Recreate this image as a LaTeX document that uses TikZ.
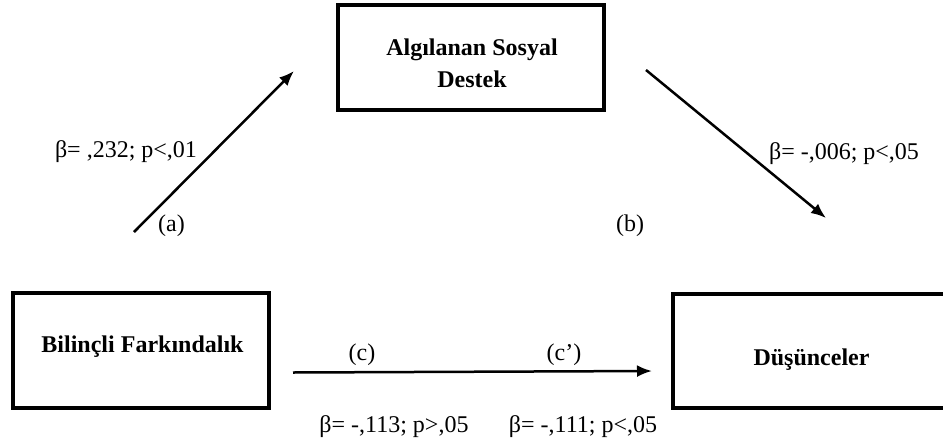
\documentclass[tikz,border=0pt]{standalone}
\usepackage{fontspec}
\setmainfont{Liberation Serif}
\usetikzlibrary{arrows.meta}
\begin{document}
\begin{tikzpicture}[x=1pt,y=-1pt,
  varbox/.style={draw=black, line width=4pt, rectangle, inner sep=0pt},
  vartext/.style={font=\fontsize{24}{32}\selectfont\bfseries, inner sep=0pt, align=center},
  lbl/.style={font=\fontsize{24}{28}\selectfont, inner sep=0pt, anchor=base},
  path/.style={line width=2.5pt, -{Latex[length=15pt,width=12pt]}}]
  \useasboundingbox (0,0) rectangle (943,445);
  \clip (0,0) rectangle (943,445);

  % variable boxes
  \node[varbox, minimum width=266pt, minimum height=105pt] (asd) at (471,57) {};
  \node[varbox, minimum width=256.5pt, minimum height=115pt] (bf) at (140.75,350.5) {};
  \node[varbox, minimum width=278pt, minimum height=114pt] (dus) at (811.5,350.5) {};

  \node[vartext] (asdtext) at (472,62.8) {Algılanan Sosyal\\Destek};
  \node[vartext, anchor=base] (bftext) at (142.5,352) {Bilinçli Farkındalık};
  \node[vartext, anchor=base] (dustext) at (811.5,365) {Düşünceler};

  % arrow end points
  \coordinate (a0) at (134,232);
  \coordinate (a1) at (294,71);
  \coordinate (b0) at (646,70);
  \coordinate (b1) at (826,218);
  \coordinate (c0) at (293,372.5);
  \coordinate (c1) at (652,371);

  \draw[path] (a0) -- (a1);
  \draw[path] (b0) -- (b1);
  \draw[path] (c0) -- (c1);

  % path labels
  \node[lbl] (la) at (126,157) {β= ,232; p<,01};
  \node[lbl] (pa) at (171.5,231) {(a)};
  \node[lbl] (lb) at (844,159) {β= -,006; p<,05};
  \node[lbl] (pb) at (630,231) {(b)};
  \node[lbl] (pc) at (362,360) {(c)};
  \node[lbl] (pcc) at (564,360) {(c’)};
  \node[lbl] (lc) at (394,432) {β= -,113; p>,05};
  \node[lbl] (lcc) at (583,432) {β= -,111; p<,05};
\end{tikzpicture}
\end{document}
